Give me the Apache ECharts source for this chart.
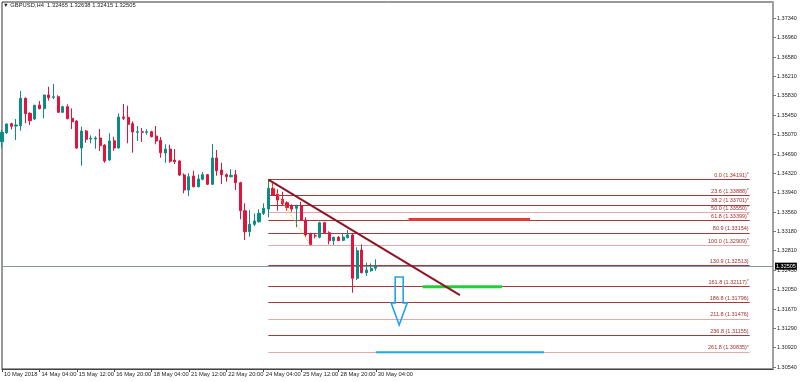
<!DOCTYPE html>
<html>
<head>
<meta charset="utf-8">
<script src="https://cdn.jsdelivr.net/npm/echarts@6/dist/echarts.min.js"></script>
<style>html,body{margin:0;padding:0;background:#fff}#c{width:800px;height:382px}</style>
</head>
<body>
<div id="c"></div>
<script>
// ---- data ----
const symbolName = 'GBPUSD,H4';
const slotCount = 166; // bar slots visible on the time axis (81 bars + empty future space)
const xTickLabels = ['10 May 2018','14 May 04:00','15 May 12:00','16 May 20:00','18 May 04:00','21 May 12:00','22 May 20:00','24 May 04:00','25 May 12:00','28 May 20:00','30 May 04:00'];
const yTickLabels = [1.37340,1.36960,1.36580,1.36210,1.35830,1.35450,1.35070,1.34690,1.34320,1.33940,1.33560,1.33180,1.32810,1.32430,1.32050,1.31670,1.31290,1.30920,1.30540];

const opens = [1.34930,1.35105,1.35280,1.35235,1.35241,1.35775,1.35483,1.35372,1.35645,1.35573,
1.35840,1.35795,1.35806,1.35503,1.35612,1.35386,1.35333,1.34807,1.35138,1.34982,
1.34982,1.35002,1.34865,1.34573,1.34949,1.34807,1.35411,1.35405,1.35280,1.35113,
1.35124,1.35113,1.35124,1.35041,1.34957,1.34709,1.34787,1.34573,1.34554,1.34281,
1.33988,1.34261,1.34053,1.34197,1.34287,1.34099,1.34612,1.34378,1.34287,1.34248,
1.34287,1.34131,1.33585,1.33176,1.33320,1.33371,1.33534,1.33618,1.34022,1.33910,
1.33807,1.33741,1.33677,1.33632,1.33683,1.33404,1.33131,1.33098,1.33067,1.33351,
1.33156,1.33001,1.33067,1.33008,1.33059,1.33112,1.32268,1.32819,1.32377,1.32416,
1.32465];
const closes = [1.35113,1.35274,1.35230,1.35255,1.35775,1.35475,1.35339,1.35639,1.35573,1.35840,
1.35787,1.35806,1.35503,1.35612,1.35378,1.35319,1.34807,1.35138,1.34976,1.34996,
1.35002,1.34852,1.34554,1.34943,1.34807,1.35411,1.35386,1.35269,1.35119,1.35124,
1.35113,1.35124,1.35027,1.34943,1.34715,1.34787,1.34548,1.34540,1.34281,1.33988,
1.34248,1.34053,1.34203,1.34287,1.34099,1.34612,1.34364,1.34287,1.34248,1.34275,
1.34131,1.33585,1.33176,1.33320,1.33384,1.33534,1.33632,1.34022,1.33891,1.33794,
1.33716,1.33644,1.33618,1.33683,1.33404,1.33112,1.32925,1.33092,1.33351,1.33156,
1.33001,1.33067,1.33001,1.33073,1.33112,1.32268,1.32806,1.32377,1.32430,1.32463,
1.32505];
const lows = [1.34813,1.35080,1.35171,1.34963,1.35144,1.35288,1.35255,1.35352,1.35561,1.35386,
1.35729,1.35762,1.35495,1.35489,1.35366,1.35177,1.34787,1.34462,1.34910,1.34898,
1.34793,1.34748,1.34520,1.34559,1.34754,1.34801,1.35352,1.34898,1.34715,1.34943,
1.34924,1.35066,1.35015,1.34879,1.34618,1.34520,1.34520,1.34495,1.34261,1.33924,
1.33872,1.34041,1.34041,1.34177,1.34086,1.34092,1.34267,1.34105,1.34150,1.34236,
1.33988,1.33418,1.33014,1.33079,1.33287,1.33351,1.33501,1.33456,1.33872,1.33585,
1.33696,1.33585,1.33566,1.33262,1.33390,1.33079,1.32909,1.33047,1.33047,1.33131,
1.32930,1.32917,1.32995,1.32995,1.33047,1.31987,1.32235,1.32365,1.32313,1.32396,
1.32415];
const highs = [1.35158,1.35288,1.35300,1.35372,1.35918,1.35795,1.35503,1.35651,1.35723,1.35845,
1.36001,1.36054,1.35834,1.35631,1.35658,1.35580,1.35347,1.35222,1.35158,1.35054,
1.35035,1.35177,1.34879,1.35093,1.35027,1.35483,1.35664,1.35631,1.35327,1.35235,
1.35197,1.35171,1.35144,1.35235,1.35021,1.34879,1.34871,1.34787,1.34567,1.34314,
1.34314,1.34364,1.34294,1.34339,1.34300,1.34885,1.34768,1.34520,1.34314,1.34392,
1.34378,1.34150,1.33729,1.33599,1.33534,1.33612,1.33729,1.34191,1.34119,1.34002,
1.33955,1.33768,1.33710,1.33702,1.33760,1.33456,1.33156,1.33145,1.33371,1.33371,
1.33184,1.33079,1.33092,1.33145,1.33209,1.33145,1.32872,1.32930,1.32572,1.32560,
1.32638];
const currentPrice = 1.32505;

// Fibonacci object (anchored from bar 57 high to bar 66 low, drawn to bar 160)
const fibStartBar = 57, fibEndBar = 160, fibLowBar = 66;
const fibLevels = ['0.0','23.6','38.2','50.0','61.8','80.9','100.0','130.9','161.8','186.8','211.8','236.8','261.8'];
const fibPrices = [1.34191,1.33888,1.33701,1.33550,1.33399,1.33154,1.32909,1.32513,1.32117,1.31796,1.31476,1.31155,1.30835];
const fibMarked = [true,true,true,true,true,false,true,false,true,false,false,false,true];

// other drawing objects (bar index, price)
const trendLine = [[57,1.34191],[98,1.31942]];
const redLevel = [[87,1.33414],[113,1.33414]];
const greenLevel = [[90,1.32104],[107,1.32104]];
const blueLevel = [[80,1.30826],[116,1.30826]];
const arrowDown = [[85,1.32294,1.31359]]; // bar, top price, tip price

// ---- styles ----
const BULL = '#0c8c84', BEAR = '#e0143c';
const FIB_DARK = '#a8383a', FIB_LIGHT = '#e3aaaa';
const fibLight = [false,false,false,true,false,false,true,false,false,false,true,false,true];
const FONT = 'Liberation Sans';

const categories = Array.from({length: slotCount}, (_, i) => String(i));
const candleData = opens.map((o, i) => [o, closes[i], lows[i], highs[i]]);
const tickIdx = i => i % 8 === 0 && i / 8 < xTickLabels.length;

const markData = fibLevels.map((lv, i) => [
  {
    coord: [fibStartBar, fibPrices[i]],
    lineStyle: {color: fibLight[i] ? FIB_LIGHT : FIB_DARK, width: 1, type: 'solid'},
    label: {
      show: true, position: 'insideEndTop', distance: 1,
      formatter: lv + ' (' + fibPrices[i].toFixed(5) + ')' + (fibMarked[i] ? '{m|*}' : ''),
      color: '#a03030', fontSize: 5.5, fontFamily: FONT,
      rich: {m: {fontSize: 4.5, color: '#a03030', verticalAlign: 'top'}}
    }
  },
  {coord: [fibEndBar, fibPrices[i]]}
]);
markData.push([
  {
    coord: [0, currentPrice],
    lineStyle: {color: '#8797a6', width: 1, type: 'solid'},
    label: {show: true, position: 'end', distance: 2, formatter: currentPrice.toFixed(5),
      backgroundColor: '#000', color: '#fff', fontSize: 5.5, fontFamily: FONT, padding: [1, 1, 0, 1]}
  },
  {coord: [slotCount - 1, currentPrice]}
]);

const lastIdx = opens.length - 1;
const chart = echarts.init(document.getElementById('c'), null, {renderer: 'canvas'});
chart.setOption({
  animation: false,
  backgroundColor: '#fff',
  title: {
    text: '\u25BC ' + symbolName + '  ' + [opens[lastIdx], highs[lastIdx], lows[lastIdx], closes[lastIdx]].map(v => v.toFixed(5)).join(' '),
    left: 3, top: 2, padding: 0,
    textStyle: {fontSize: 5.8, fontWeight: 'normal', color: '#222', fontFamily: FONT}
  },
  grid: {left: 2, right: 27, top: 2, bottom: 13, show: true, borderColor: '#333', borderWidth: 1},
  xAxis: {
    type: 'category', data: categories, boundaryGap: false,
    axisLine: {lineStyle: {color: '#444', width: 1}},
    axisTick: {show: true, length: 3, interval: tickIdx, lineStyle: {color: '#444'}},
    axisLabel: {interval: tickIdx, margin: 2, align: 'left', padding: [0, 0, 0, 2],
      fontSize: 5.8, color: '#222', fontFamily: FONT,
      formatter: (v, i) => xTickLabels[i / 8] || ''},
    splitLine: {show: false}
  },
  yAxis: {
    type: 'value', position: 'right', min: 1.30501, max: 1.37652, scale: true,
    axisLine: {show: true, lineStyle: {color: '#a0a0a0', width: 2}},
    axisTick: {show: true, length: 3, customValues: yTickLabels, lineStyle: {color: '#777'}},
    axisLabel: {customValues: yTickLabels, margin: 4, fontSize: 5.5, color: '#222', fontFamily: FONT,
      formatter: v => v.toFixed(5)},
    splitLine: {show: false}
  },
  series: [
    {
      type: 'candlestick', data: candleData, barWidth: 2.6, z: 3,
      itemStyle: {color: BULL, color0: BEAR, borderColor: BULL, borderColor0: BEAR, borderWidth: 1},
      markLine: {symbol: ['none', 'none'], silent: true, animation: false, z: 2, data: markData}
    },
    {type: 'line', data: [[fibStartBar, fibPrices[0]], [fibLowBar, fibPrices[6]]], symbol: 'none', z: 7,
      lineStyle: {color: '#f2c21a', width: 1, type: 'dotted'}},
    {type: 'line', data: redLevel, symbol: 'none', z: 8, lineStyle: {color: '#e63a3a', width: 3}},
    {type: 'line', data: greenLevel, symbol: 'none', z: 8, lineStyle: {color: '#27cc3a', width: 3}},
    {type: 'line', data: blueLevel, symbol: 'none', z: 8, lineStyle: {color: '#1fa6ec', width: 2}},
    {type: 'line', data: trendLine, symbol: 'none', z: 9, lineStyle: {color: '#8c1624', width: 2}},
    {
      type: 'custom', data: arrowDown, z: 9,
      renderItem: (params, api) => {
        const top = api.coord([api.value(0), api.value(1)]);
        const tip = api.coord([api.value(0), api.value(2)]);
        const x = top[0], sw = 4, hw = 8, hl = 22;
        const neck = tip[1] - hl;
        return {
          type: 'polygon',
          shape: {points: [[x - sw, top[1]], [x + sw, top[1]], [x + sw, neck], [x + hw, neck], [x, tip[1]], [x - hw, neck], [x - sw, neck]]},
          style: {fill: 'rgba(255,255,255,0)', stroke: '#1fa3ee', lineWidth: 1.6}
        };
      }
    }
  ]
});
</script>
</body>
</html>
